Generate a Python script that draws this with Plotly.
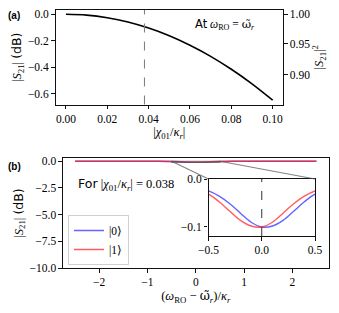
import math
import plotly.graph_objects as go

# ---------------- data ----------------
# panel (a): transmission at omega_RO = omega_r vs |chi01/kappa_r|
chi_a = [0.0, 0.01, 0.02, 0.03, 0.04, 0.05, 0.06, 0.07, 0.08, 0.09, 0.10]
s21_db_a = [0.0, -0.0065, -0.026, -0.058, -0.104, -0.162, -0.234, -0.318, -0.416, -0.526, -0.65]
chi_marker = 0.038

# panel (b): transmission vs detuning for |0> and |1>
det_b = [-2.5, -2.0, -1.5, -1.0, -0.75, -0.5, -0.4, -0.3, -0.2, -0.1, 0.0,
         0.1, 0.2, 0.3, 0.4, 0.5, 0.75, 1.0, 1.5, 2.0, 2.5]
s21_state0 = [-0.0011, -0.0017, -0.0029, -0.0062, -0.011, -0.025, -0.036, -0.052, -0.072, -0.091, -0.101,
              -0.099, -0.087, -0.068, -0.048, -0.032, -0.014, -0.0072, -0.0032, -0.0018, -0.0012]
s21_state1 = [-0.0012, -0.0018, -0.0032, -0.0072, -0.014, -0.032, -0.048, -0.068, -0.087, -0.099, -0.101,
              -0.091, -0.072, -0.052, -0.036, -0.025, -0.011, -0.0062, -0.0029, -0.0017, -0.0011]
state_labels = ["|0⟩", "|1⟩"]

a_xticks = [0.0, 0.02, 0.04, 0.06, 0.08, 0.10]
a_yticks = [0.0, -0.2, -0.4, -0.6]
a_rticks = [1.00, 0.95, 0.90]
b_xticks = [-2, -1, 0, 1, 2]
b_yticks = [0.0, -2.5, -5.0, -7.5, -10.0]
inset_xticks = [-0.5, 0.0, 0.5]
inset_yticks = [0.0, -0.1]
inset_xrange = [-0.5, 0.5]
inset_yrange = [-0.12, 0.0]

# ---------------- layout geometry ----------------
# page body has an 8px margin, so the figure is drawn 8px in from the window edge
OFF = 8
W, H = 339 - OFF, 313 - OFF
SERIF = "Liberation Serif"
SANS = "DejaVu Sans"
FS = 11.5
TFS = 12.5

def fx(p):
    return (p - OFF) / W

def fy(p):
    return 1 - (p - OFF) / H

dom_ax = [fx(55.6), fx(283)]
dom_ay = [fy(104.5), fy(10)]
dom_bx = [fx(63), fx(328.5)]
dom_by = [fy(268), fy(158)]
dom_ix = [fx(208.5), fx(315)]
dom_iy = [fy(236), fy(179)]

a_xrange = [-0.005, 0.105]
a_yrange = [-0.6825, 0.0325]
b_xrange = [-2.75, 2.75]
b_yrange = [-10.0, 0.3]

BLUE = "rgba(40,40,255,0.72)"
RED = "rgba(255,30,30,0.72)"
AX = "#111111"

fig = go.Figure()

fig.add_trace(go.Scatter(x=chi_a, y=s21_db_a, mode="lines", line=dict(color="black", width=1.6, shape="spline"),
                         xaxis="x", yaxis="y", showlegend=False))
fig.add_trace(go.Scatter(x=chi_a, y=s21_db_a, mode="lines", line=dict(width=0), opacity=0,
                         xaxis="x", yaxis="y2", showlegend=False, hoverinfo="skip"))

for vals, col, lab in [(s21_state0, BLUE, state_labels[0]), (s21_state1, RED, state_labels[1])]:
    fig.add_trace(go.Scatter(x=det_b, y=vals, mode="lines", line=dict(color=col, width=1.5, shape="spline"),
                             xaxis="x2", yaxis="y3", name=lab, showlegend=True))
for vals, col in [(s21_state0, BLUE), (s21_state1, RED)]:
    fig.add_trace(go.Scatter(x=det_b, y=vals, mode="lines", line=dict(color=col, width=1.4, shape="spline"),
                             xaxis="x3", yaxis="y4", showlegend=False))

tickfont = dict(family=SERIF, size=FS, color="black")
common = dict(showline=True, linecolor=AX, linewidth=1.1, ticks="outside", ticklen=3.5, tickwidth=0.9,
              tickcolor=AX, showgrid=False, zeroline=False, tickfont=tickfont, automargin=False)

def db_to_lin_pos(v):
    return 10 * math.log10(v)

TF = dict(family=SERIF, size=TFS, color="black")
DB = "<span style=\"font-family:DejaVu Sans\">(dB)</span>"
WT = "<span style=\"font-family:DejaVu Serif\">ω̃</span>"
fig.update_layout(
    width=W, height=H, margin=dict(l=0, r=0, t=0, b=0),
    paper_bgcolor="white", plot_bgcolor="white",
    font=dict(family=SERIF, size=FS, color="black"),
    xaxis=dict(domain=dom_ax, range=a_xrange, anchor="y", tickvals=a_xticks, tickformat=".2f", mirror=True,
               title=dict(text="|<i>χ</i><sub>01</sub>/<i>κ<sub>r</sub></i>|", standoff=3, font=TF),
               **common),
    yaxis=dict(domain=dom_ay, range=a_yrange, anchor="x", tickvals=a_yticks, tickformat=".1f", mirror=True,
               title=dict(text=f"|<i>S</i><sub>21</sub>| {DB}", standoff=3, font=TF),
               **common),
    yaxis2=dict(overlaying="y", side="right", anchor="x", range=a_yrange,
                tickvals=[db_to_lin_pos(v) for v in a_rticks], ticktext=[f"{v:.2f}" for v in a_rticks],
                showline=False, ticks="outside", ticklen=3.5, tickwidth=0.9, tickcolor=AX, showgrid=False,
                zeroline=False, tickfont=tickfont, automargin=False,
                title=dict(text="|<i>S</i><sub>21</sub>|<sup>2</sup>", standoff=3, font=TF)),
    xaxis2=dict(domain=dom_bx, range=b_xrange, anchor="y3", tickvals=b_xticks, mirror=True,
                title=dict(text=f"(<i>ω</i><sub>RO</sub> − {WT}<sub><i>r</i></sub>)/<i>κ<sub>r</sub></i>", standoff=3,
                           font=TF),
                **common),
    yaxis3=dict(domain=dom_by, range=b_yrange, anchor="x2", tickvals=b_yticks, tickformat=".1f", mirror=True,
                title=dict(text=f"|<i>S</i><sub>21</sub>| {DB}", standoff=3, font=TF),
                **common),
    xaxis3=dict(domain=dom_ix, range=inset_xrange, anchor="y4", tickvals=inset_xticks, tickformat=".1f",
                mirror=True, **common),
    yaxis4=dict(domain=dom_iy, range=inset_yrange, anchor="x3", tickvals=inset_yticks, tickformat=".1f",
                mirror=True, **common),
    legend=dict(x=fx(68), y=fy(265), xanchor="left", yanchor="bottom", bgcolor="rgba(255,255,255,0.85)",
                bordercolor="#d0d0d0", borderwidth=1, font=dict(family=SERIF, size=FS), itemwidth=30,
                tracegroupgap=2),
)

# marker dashed lines
fig.add_shape(type="line", xref="x", yref="y domain", x0=chi_marker, x1=chi_marker, y0=0, y1=1,
              line=dict(color="gray", width=1.1, dash="dash"))
fig.add_shape(type="line", xref="x3", yref="y4 domain", x0=0, x1=0, y0=0, y1=1,
              line=dict(color="#333333", width=1.0, dash="dash"))

# inset zoom indicator rectangle + connectors
fig.add_shape(type="rect", xref="x2", yref="y3", x0=inset_xrange[0], x1=inset_xrange[1],
              y0=inset_yrange[0], y1=inset_yrange[1], line=dict(color="rgba(80,80,80,0.6)", width=1.1))

def paper_from_b(xv, yv):
    px = dom_bx[0] + (xv - b_xrange[0]) / (b_xrange[1] - b_xrange[0]) * (dom_bx[1] - dom_bx[0])
    py = dom_by[0] + (yv - b_yrange[0]) / (b_yrange[1] - b_yrange[0]) * (dom_by[1] - dom_by[0])
    return px, py

for xv, ix in [(inset_xrange[0], dom_ix[0]), (inset_xrange[1], dom_ix[1])]:
    px, py = paper_from_b(xv, inset_yrange[1])
    fig.add_shape(type="line", xref="paper", yref="paper", x0=px, y0=py, x1=ix, y1=dom_iy[1],
                  line=dict(color="rgba(90,90,90,0.75)", width=1.1))

# annotations
fig.add_annotation(x=fx(6), y=fy(8), xref="paper", yref="paper", xanchor="left", yanchor="top",
                   text="<b>(a)</b>", showarrow=False, font=dict(family="Liberation Sans", size=10))
fig.add_annotation(x=fx(6), y=fy(166), xref="paper", yref="paper", xanchor="left", yanchor="middle",
                   text="<b>(b)</b>", showarrow=False, font=dict(family="Liberation Sans", size=10))
fig.add_annotation(x=fx(193), y=fy(24), xref="paper", yref="paper", xanchor="left", yanchor="middle",
                   text=f"<span style=\"font-family:DejaVu Sans\">At</span> <i>ω</i><sub>RO</sub> = {WT}<sub><i>r</i></sub>",
                   showarrow=False, font=dict(family=SERIF, size=FS))
fig.add_annotation(x=fx(76), y=fy(184), xref="paper", yref="paper", xanchor="left", yanchor="middle",
                   text=f"<span style=\"font-family:DejaVu Sans\">For</span> |<i>χ</i><sub>01</sub>/<i>κ<sub>r</sub></i>| = {chi_marker}",
                   showarrow=False, font=dict(family=SERIF, size=TFS))

fig.write_html("out.html")
